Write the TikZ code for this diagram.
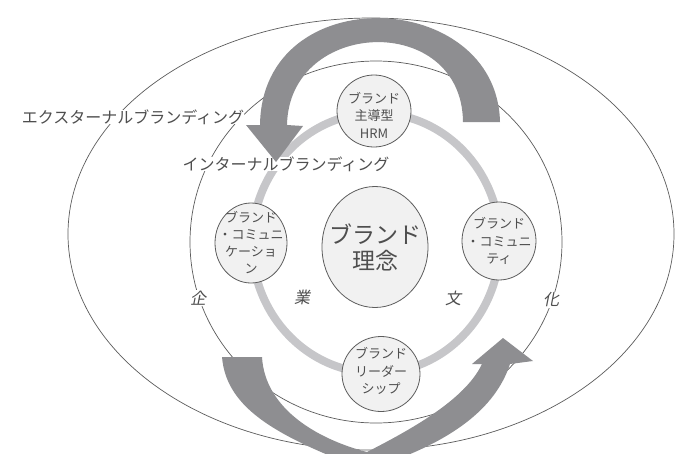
\documentclass[tikz,border=0pt]{standalone}
\usepackage{fontspec}
\newfontfamily\jpfont{Noto Sans CJK JP}
\newfontfamily\jpslant[FakeSlant=0.2]{Noto Sans CJK JP}
\usetikzlibrary{shapes.geometric}

\definecolor{linegray}{HTML}{5C5C5C}
\definecolor{ringgray}{HTML}{C6C6C9}
\definecolor{arrowgray}{HTML}{8E8E91}
\definecolor{bubblefill}{HTML}{F1F1F1}
\definecolor{textgray}{HTML}{4E4E4E}

\tikzset{
  thinline/.style={draw=linegray, line width=0.7pt},
  bigarrow/.style={fill=arrowgray},
  bubble/.style={ellipse, draw=linegray, line width=0.8pt, fill=bubblefill, inner sep=0pt},
  bubbletext/.style={font=\jpfont\fontsize{13}{17.5}\selectfont, text=textgray, align=center, inner sep=0pt},
  outlabel/.style={font=\jpfont\fontsize{16}{16}\selectfont, text=textgray, fill=white, inner sep=0pt},
  culture/.style={font=\jpslant\fontsize{16}{16}\selectfont, text=textgray, fill=white, inner sep=1pt}
}

\begin{document}
\begin{tikzpicture}[x=1pt,y=-1pt]
	\clip (0,0) rectangle (678,453);
	\fill[white] (0,0) rectangle (678,453);
	% ellipses and ring
	\draw[ringgray, line width=8pt] (376,243) ellipse [x radius=124, y radius=130];
	\draw[thinline] (371,234) ellipse [x radius=303, y radius=216];
	\draw[thinline] (376,242) ellipse [x radius=186, y radius=181];
	% labels
	\node[outlabel] (extlabel) at (133,117) {エクスターナルブランディング};
	\node[outlabel] (intlabel) at (286,164) {インターナルブランディング};
	\node[culture] (kigyoA) at (198,298) {企};
	\node[culture] (kigyoB) at (302,297) {業};
	\node[culture] (bunkaA) at (453,298) {文};
	\node[culture] (bunkaB) at (551,300) {化};
	% big arrow over the top
	\coordinate (topTailOut) at (500,122);
	\coordinate (topTailIn) at (463,122);
	\coordinate (topShaftOut) at (260,125);
	\coordinate (topShaftIn) at (287,125);
	\coordinate (topL) at (246,125);
	\coordinate (topR) at (303,126);
	\coordinate (topTip) at (276,162);
	\path[bigarrow] (topTailOut) .. controls (497,-12) and (262,-22) .. (topShaftOut)
		-- (topL) -- (topTip) -- (topR) -- (topShaftIn)
		.. controls (289,18) and (462,12) .. (topTailIn) -- cycle;
	% big arrow under the bottom
	\coordinate (botTailOut) at (222,357);
	\coordinate (botTailIn) at (262,357);
	\coordinate (botTurn) at (367,452);
	\coordinate (botShaftOut) at (510,364);
	\coordinate (botShaftIn) at (482,364);
	\coordinate (botL) at (472,364);
	\coordinate (botR) at (533,361);
	\coordinate (botTip) at (503,338);
	\path[bigarrow] (botTailOut) .. controls (226,405) and (270,432) .. (345,462)
		-- (367,478) -- (390,462) .. controls (450,440) and (495,410) .. (botShaftOut)
		-- (botR) -- (botTip) -- (botL) -- (botShaftIn)
		.. controls (465,400) and (410,430) .. (botTurn)
		.. controls (320,440) and (265,410) .. (botTailIn) -- cycle;
	% bubbles
	\node[bubble, minimum width=74pt, minimum height=72pt] (hrm) at (374,111) {};
	\node[bubble, minimum width=106pt, minimum height=121pt] (rinen) at (375,247) {};
	\node[bubble, minimum width=72pt, minimum height=80pt] (comm) at (251,243) {};
	\node[bubble, minimum width=74pt, minimum height=78pt] (cmty) at (499,241) {};
	\node[bubble, minimum width=78pt, minimum height=75pt] (lead) at (381,374) {};
	\node[bubbletext] (hrmtext) at ([yshift=-4pt]hrm) {ブランド\\主導型\\HRM};
	\node[bubbletext, font=\jpfont\fontsize{23}{26}\selectfont] (rinentext) at (rinen) {ブランド\\理念};
	\node[bubbletext, font=\jpfont\fontsize{13}{17}\selectfont] (commtext) at (comm) {ブランド\\・コミュニ\\ケーショ\\ン};
	\node[bubbletext] (cmtytext) at (cmty) {ブランド\\・コミュニ\\ティ};
	\node[bubbletext] (leadtext) at ([yshift=3pt]lead) {ブランド\\リーダー\\シップ};
\end{tikzpicture}
\end{document}
